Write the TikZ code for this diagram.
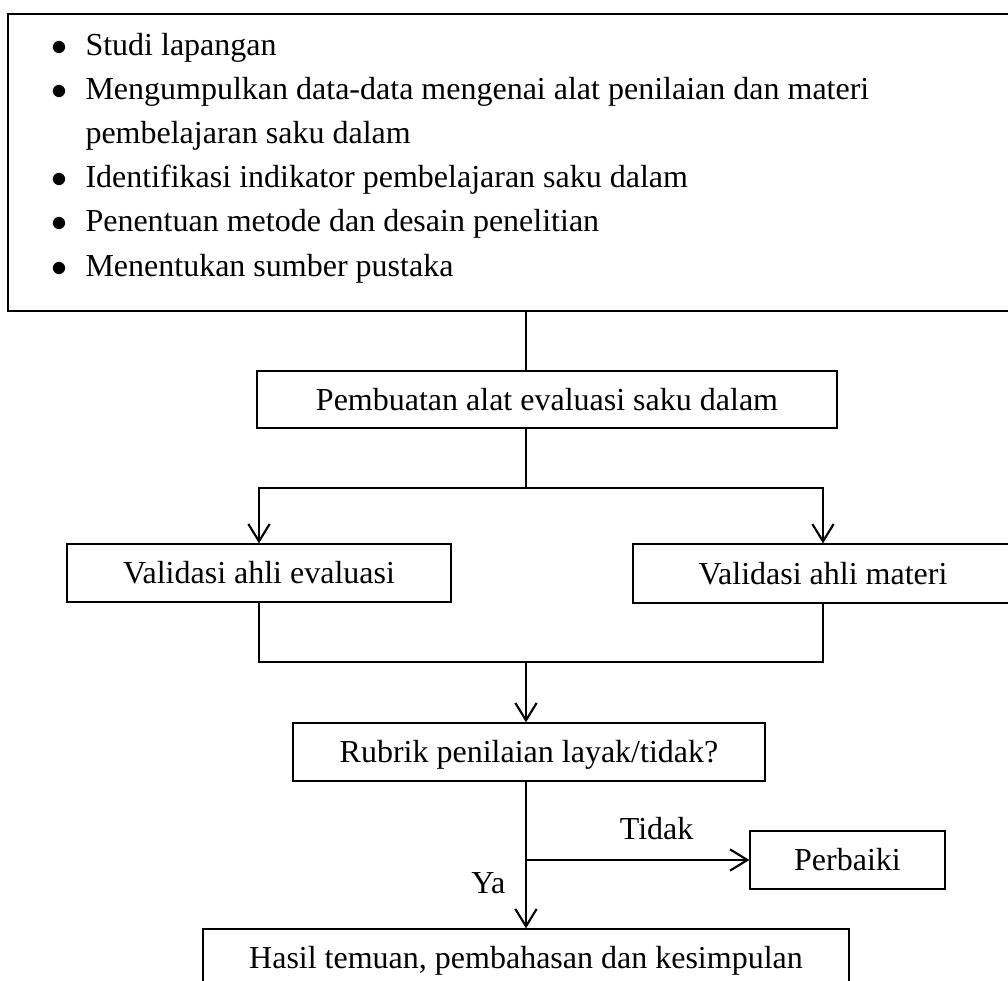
\documentclass[tikz,border=0pt]{standalone}
\usepackage{fontspec}
\setmainfont{Liberation Serif}
\usepackage{tikz}
\usetikzlibrary{arrows.meta}

\begin{document}
\begin{tikzpicture}[x=0.375pt, y=-0.375pt, font=\fontsize{12}{14}\selectfont,
		box_style/.style={rectangle,draw=black,line width=0.5pt,fill=white,text height=8pt,text depth=0pt,inner sep=0pt},
		item_style/.style={anchor=base west,inner sep=0pt},
		edge_style/.style={draw=black,line width=0.8pt},
		arrow_style/.style={edge_style,-{Straight Barb[length=6.5pt,width=8pt]}}]

		\useasboundingbox (0,0) rectangle (1008,981);

		\node[box_style, minimum width=377.6pt, minimum height=111.4pt] (riset) at (511.5,162.5) {};
		\node[item_style] (studi) at (51,56) {\makebox[12.75pt][l]{$\bullet$}Studi lapangan};
		\node[item_style] (data) at (51,100) {\makebox[12.75pt][l]{$\bullet$}Mengumpulkan data-data mengenai alat penilaian dan materi};
		\node[item_style] (data2) at (85,144) {pembelajaran saku dalam};
		\node[item_style] (indikator) at (51,188) {\makebox[12.75pt][l]{$\bullet$}Identifikasi indikator pembelajaran saku dalam};
		\node[item_style] (metode) at (51,232) {\makebox[12.75pt][l]{$\bullet$}Penentuan metode dan desain penelitian};
		\node[item_style] (pustaka) at (51,276) {\makebox[12.75pt][l]{$\bullet$}Menentukan sumber pustaka};

		\node[box_style, minimum width=217.5pt, minimum height=21.4pt] (pembuatan) at (547,399.5) {Pembuatan alat evaluasi saku dalam};
		\node[box_style, minimum width=144pt, minimum height=21.75pt] (evaluasi) at (259,573) {Validasi ahli evaluasi};
		\node[box_style, minimum width=142.5pt, minimum height=22.1pt] (materi) at (823,573.5) {Validasi ahli materi};
		\node[box_style, minimum width=177pt, minimum height=21.75pt] (rubrik) at (529,752) {Rubrik penilaian layak/tidak?};
		\node[box_style, minimum width=73.1pt, minimum height=21.75pt] (perbaiki) at (847.5,860) {Perbaiki};
		\node[box_style, minimum width=242.25pt, minimum height=21.75pt] (hasil) at (526,958) {Hasil temuan, pembahasan dan kesimpulan};

		\coordinate (cabang) at (526,488);
		\coordinate (gabung) at (526,662);
		\coordinate (pisah) at (gabung |- perbaiki);

		\draw[edge_style]  (riset.south -| cabang) -- (pembuatan.north -| cabang);
		\draw[edge_style]  (pembuatan.south -| cabang) -- (cabang);
		\draw[arrow_style] (cabang) -| (evaluasi.north);
		\draw[arrow_style] (cabang) -| (materi.north);
		\draw[edge_style]  (evaluasi.south) |- (gabung);
		\draw[edge_style]  (materi.south) |- (gabung);
		\draw[arrow_style] (gabung) -- (rubrik.north -| gabung);
		\draw[arrow_style] (rubrik.south -| gabung) -- node[left=4pt, pos=0.69]{Ya} (hasil.north -| gabung);
		\draw[arrow_style] (pisah) -- node[above=4pt, pos=0.585]{Tidak} (perbaiki.west);
		\end{tikzpicture}
\end{document}
